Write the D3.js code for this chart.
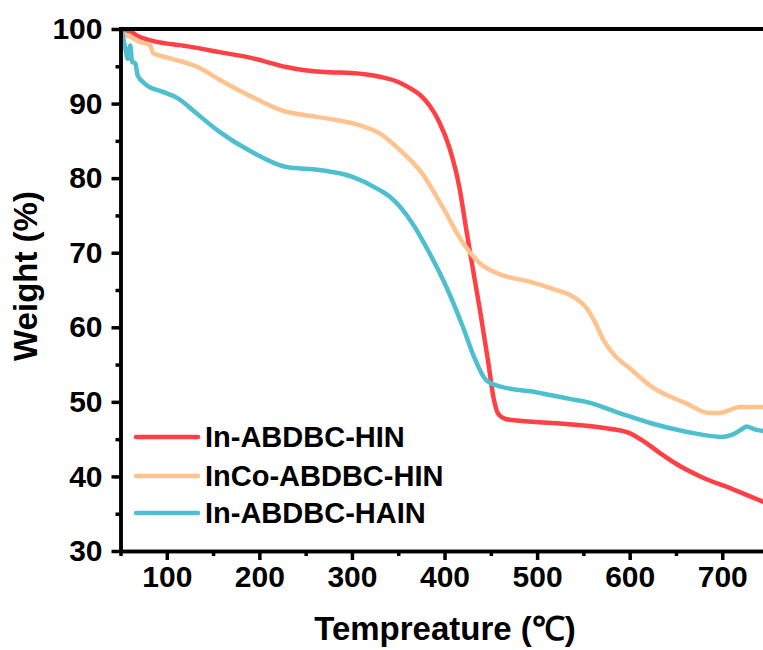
<!DOCTYPE html>
<html>
<head>
<meta charset="utf-8">
<script src="https://cdn.jsdelivr.net/npm/d3@7"></script>
<style>
  html, body { margin: 0; padding: 0; background: #fff; }
  #chart { width: 763px; height: 650px; }
  text { font-family: "Liberation Sans", Arial, sans-serif; font-weight: bold; fill: #000; }
</style>
</head>
<body>
<div id="chart"></div>
<script>
// series data: [temperature (C), weight (%)]
const inHIN = [[53,99.9],[60,99.7],[70,99.0],[85,98.4],[121,97.7],[157,96.9],[192,96.1],[229,94.9],[247,94.5],[276,94.2],[300,94.1],[330,93.6],[350,92.9],[365,91.9],[375,91.0],[384,89.7],[394,87.6],[405,84.2],[416,78.8],[423,73.5],[429,69.0],[438,62.5],[447,55.5],[453,50.5],[458,48.4],[466,47.7],[499,47.3],[535,47.0],[578,46.4],[600,45.8],[614,44.8],[632,43.2],[650,41.7],[678,39.9],[711,38.3],[744,36.6]];
const inCoHIN = [[54,99.2],[60,99.0],[70,98.3],[81,97.9],[83,97.6],[85,96.8],[103,96.1],[135,94.8],[157,93.2],[192,90.9],[229,88.9],[247,88.5],[283,87.8],[308,87.1],[330,86.0],[348,84.2],[376,80.6],[398,76.1],[420,71.3],[438,68.6],[462,67.0],[490,66.2],[516,65.2],[540,64.0],[552,62.8],[562,60.8],[572,58.2],[584,56.2],[600,54.5],[624,52.0],[661,49.8],[686,48.5],[697,48.5],[710,49.0],[719,49.3],[744,49.3]];
const inHAIN = [[52,99.4],[55,97.5],[58,96.0],[60.5,97.8],[62.5,95.6],[66,95.4],[68.5,93.8],[78,92.5],[95,91.6],[112,90.7],[132,88.7],[157,86.2],[192,83.5],[229,81.5],[265,81.1],[300,80.2],[330,78.4],[341,77.5],[365,74.0],[384,69.9],[402,65.4],[420,60.0],[432,56.0],[445,52.9],[462,52.0],[499,51.3],[535,50.4],[553,50.0],[589,48.5],[624,47.1],[661,46.0],[700,45.3],[711,45.6],[722,46.4],[726,46.7],[735,46.3],[744,46.1]];

const seriesNames = ["In-ABDBC-HIN", "InCo-ABDBC-HIN", "In-ABDBC-HAIN"];
const seriesColors = ["#ff4045", "#ffc38f", "#4dbfce"];
const seriesData = [inHIN, inCoHIN, inHAIN];

const xTicks = [100, 200, 300, 400, 500, 600, 700];
const xMinor = [50, 150, 250, 350, 450, 550, 650];
const yTicks = [30, 40, 50, 60, 70, 80, 90, 100];
const yMinor = [35, 45, 55, 65, 75, 85, 95];

const W = 763, H = 650;
const m = { left: 120.5, right: 763, top: 29, bottom: 551 };

const svg = d3.select("#chart").append("svg")
  .attr("width", W).attr("height", H);

const x = d3.scaleLinear().domain([50, 744]).range([m.left, m.right]);
const y = d3.scaleLinear().domain([30, 100]).range([m.bottom, m.top]);

const line = d3.line()
  .x(d => x(d[0]))
  .y(d => y(d[1]))
  .curve(d3.curveMonotoneX);

const plot = svg.append("g");
plot.selectAll("path.series")
  .data(seriesData)
  .join("path")
  .attr("class", "series")
  .attr("d", line)
  .attr("fill", "none")
  .attr("stroke", (d, i) => seriesColors[i])
  .attr("stroke-width", 4.5)
  .attr("stroke-linejoin", "round")
  .attr("stroke-linecap", "round");

function styleAxis(g) {
  g.select(".domain").attr("stroke", "#000").attr("stroke-width", 3.5);
  g.selectAll(".tick line").attr("stroke", "#000").attr("stroke-width", 3.5);
  g.selectAll(".tick text").style("font-size", "30px").style("font-weight", "bold")
    .style("font-family", "'Liberation Sans', Arial, sans-serif").attr("fill", "#000");
}

// minor ticks
svg.append("g")
  .attr("transform", `translate(0,${m.bottom})`)
  .call(d3.axisBottom(x).tickValues(xMinor).tickSize(5).tickFormat("").tickSizeOuter(0))
  .call(styleAxis);
svg.append("g")
  .attr("transform", `translate(${m.left},0)`)
  .call(d3.axisLeft(y).tickValues(yMinor).tickSize(5).tickFormat("").tickSizeOuter(0))
  .call(styleAxis);

// major ticks
svg.append("g")
  .attr("transform", `translate(0,${m.bottom})`)
  .call(d3.axisBottom(x).tickValues(xTicks).tickSize(9).tickPadding(6).tickSizeOuter(0))
  .call(styleAxis);
svg.append("g")
  .attr("transform", `translate(${m.left},0)`)
  .call(d3.axisLeft(y).tickValues(yTicks).tickSize(9).tickPadding(9).tickSizeOuter(0))
  .call(styleAxis);

// top frame line
svg.append("line")
  .attr("x1", m.left - 1.5).attr("x2", m.right)
  .attr("y1", m.top).attr("y2", m.top)
  .attr("stroke", "#000").attr("stroke-width", 4);

// axis titles
svg.append("text")
  .attr("x", 445).attr("y", 640)
  .attr("text-anchor", "middle")
  .style("font-size", "33px")
  .text("Tempreature (℃)");

svg.append("text")
  .attr("transform", "translate(37,276) rotate(-90)")
  .attr("text-anchor", "middle")
  .style("font-size", "33px")
  .text("Weight (%)");

// legend
const legend = svg.append("g");
const legendY = [437, 476, 513];
seriesNames.forEach((name, i) => {
  legend.append("line")
    .attr("x1", 136).attr("x2", 198)
    .attr("y1", legendY[i]).attr("y2", legendY[i])
    .attr("stroke", seriesColors[i])
    .attr("stroke-width", 4.5)
    .attr("stroke-linecap", "round");
  legend.append("text")
    .attr("x", 205).attr("y", legendY[i] + 10)
    .style("font-size", "29px")
    .text(name);
});
</script>
</body>
</html>
